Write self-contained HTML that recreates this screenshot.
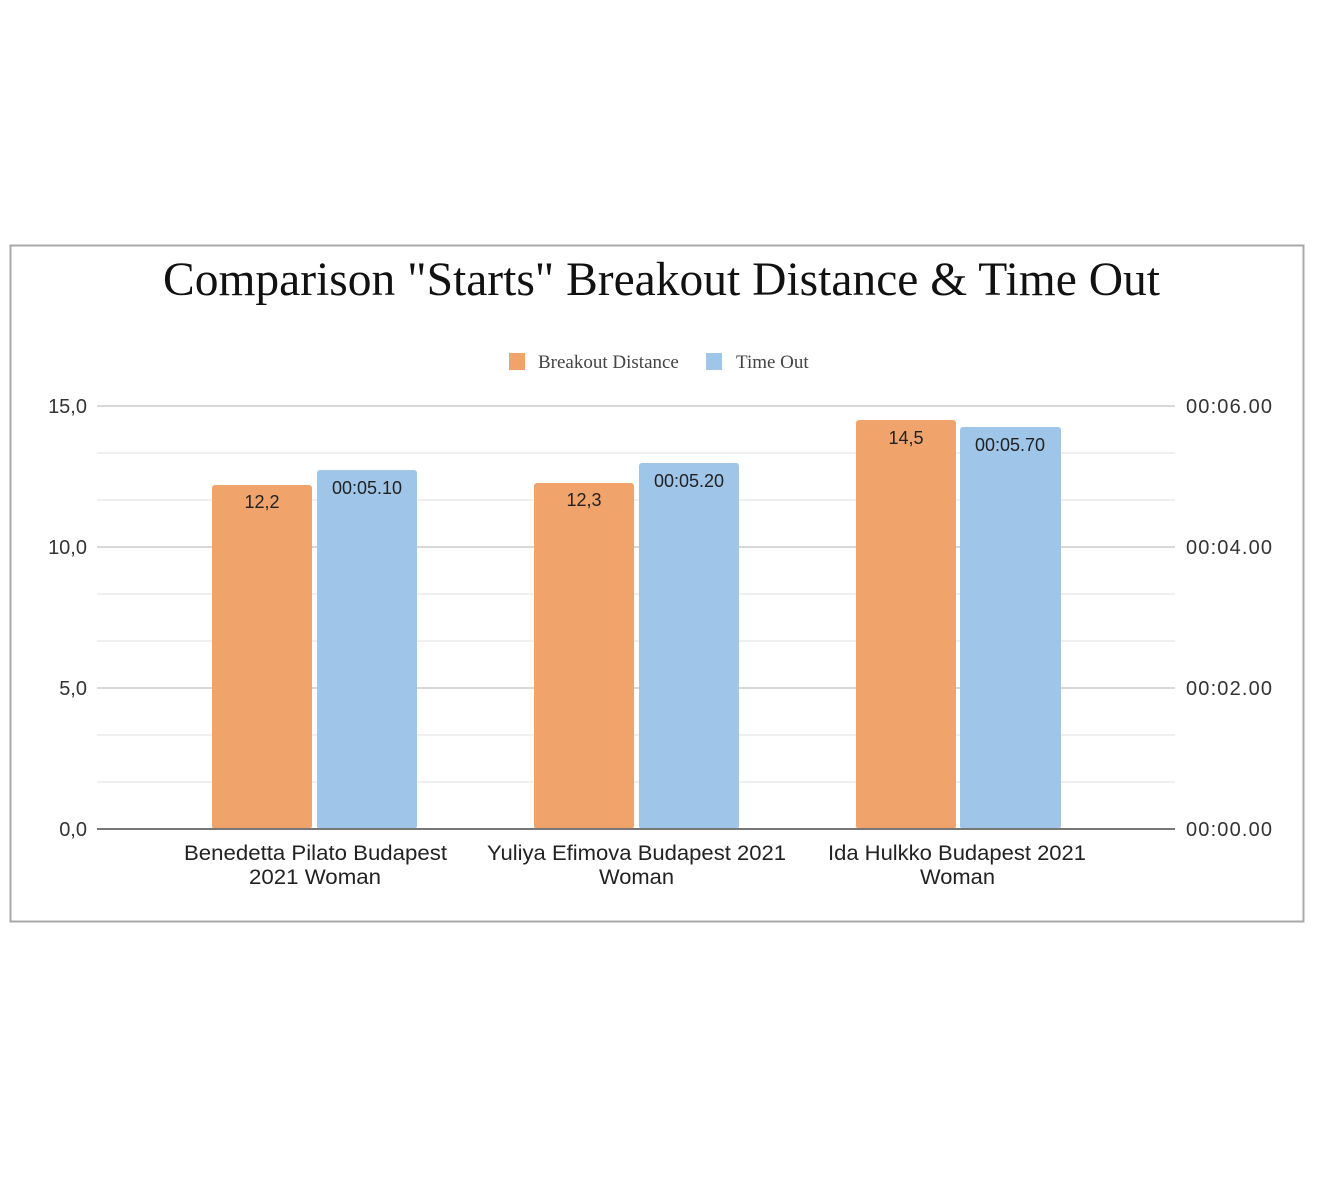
<!DOCTYPE html>
<html><head><meta charset="utf-8"><style>
html,body{margin:0;padding:0;background:#fff;}
svg{display:block;}
</style></head><body>
<svg width="1320" height="1200" viewBox="0 0 1320 1200" xmlns="http://www.w3.org/2000/svg">
<rect x="0" y="0" width="1320" height="1200" fill="#fff"/>
<rect x="10.5" y="245.5" width="1293" height="676" fill="#fff" stroke="#a8a8a8" stroke-width="2"/>
<text x="163" y="295" textLength="997" lengthAdjust="spacingAndGlyphs" font-family="Liberation Serif, serif" font-size="48" fill="#111">Comparison "Starts" Breakout Distance &amp; Time Out</text>
<rect x="509" y="353" width="16" height="17" fill="#f0a46c"/>
<text x="538" y="368" font-family="Liberation Serif, serif" font-size="19" fill="#444">Breakout Distance</text>
<rect x="706" y="353" width="16" height="17" fill="#9fc5e8"/>
<text x="736" y="368" font-family="Liberation Serif, serif" font-size="19" fill="#444">Time Out</text>
<g stroke-width="2">
<line x1="97" x2="1175" y1="406" y2="406" stroke="#d8d8d8"/>
<line x1="97" x2="1175" y1="453" y2="453" stroke="#f0f0f0"/>
<line x1="97" x2="1175" y1="500" y2="500" stroke="#f0f0f0"/>
<line x1="97" x2="1175" y1="547" y2="547" stroke="#d8d8d8"/>
<line x1="97" x2="1175" y1="594" y2="594" stroke="#f0f0f0"/>
<line x1="97" x2="1175" y1="641" y2="641" stroke="#f0f0f0"/>
<line x1="97" x2="1175" y1="688" y2="688" stroke="#d8d8d8"/>
<line x1="97" x2="1175" y1="735" y2="735" stroke="#f0f0f0"/>
<line x1="97" x2="1175" y1="782" y2="782" stroke="#f0f0f0"/>
</g>
<g>
<rect x="212" y="485" width="100" height="344" rx="3" fill="#f0a46c"/>
<rect x="317" y="470" width="100" height="359" rx="3" fill="#9fc5e8"/>
<rect x="534" y="483" width="100" height="346" rx="3" fill="#f0a46c"/>
<rect x="639" y="463" width="100" height="366" rx="3" fill="#9fc5e8"/>
<rect x="856" y="420" width="100" height="409" rx="3" fill="#f0a46c"/>
<rect x="960" y="427" width="101" height="402" rx="3" fill="#9fc5e8"/>
</g>
<line x1="97" x2="1175" y1="829" y2="829" stroke="#777" stroke-width="2"/>
<g font-family="Liberation Sans, sans-serif" font-size="18" fill="#222" text-anchor="middle">
<text x="262" y="508">12,2</text>
<text x="367" y="494">00:05.10</text>
<text x="584" y="506">12,3</text>
<text x="689" y="487">00:05.20</text>
<text x="906" y="444">14,5</text>
<text x="1010" y="451">00:05.70</text>
</g>
<g font-family="Liberation Sans, sans-serif" font-size="20" fill="#333" text-anchor="end">
<text x="87" y="413">15,0</text>
<text x="87" y="554">10,0</text>
<text x="87" y="695">5,0</text>
<text x="87" y="836">0,0</text>
</g>
<g font-family="Liberation Sans, sans-serif" font-size="20" fill="#333">
<text x="1186" y="413" textLength="86">00:06.00</text>
<text x="1186" y="554" textLength="86">00:04.00</text>
<text x="1186" y="695" textLength="86">00:02.00</text>
<text x="1186" y="836" textLength="86">00:00.00</text>
</g>
<g font-family="Liberation Sans, sans-serif" font-size="21" fill="#222">
<text x="184" y="860" textLength="263" lengthAdjust="spacingAndGlyphs">Benedetta Pilato Budapest</text>
<text x="249" y="884" textLength="132" lengthAdjust="spacingAndGlyphs">2021 Woman</text>
<text x="487" y="860" textLength="299" lengthAdjust="spacingAndGlyphs">Yuliya Efimova Budapest 2021</text>
<text x="599" y="884" textLength="75" lengthAdjust="spacingAndGlyphs">Woman</text>
<text x="828" y="860" textLength="258" lengthAdjust="spacingAndGlyphs">Ida Hulkko Budapest 2021</text>
<text x="920" y="884" textLength="75" lengthAdjust="spacingAndGlyphs">Woman</text>
</g>
</svg>
</body></html>
